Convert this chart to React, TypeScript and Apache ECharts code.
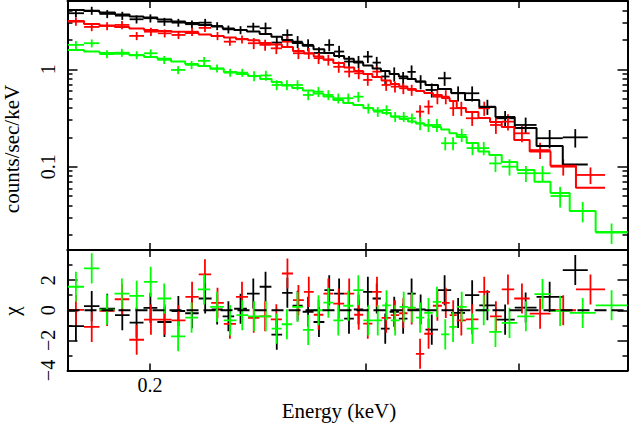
import { useEffect, useRef } from 'react'
import * as echarts from 'echarts'

// energy bin edges (keV) and values per data group
const blackEdges = [0.1714, 0.1767, 0.1819, 0.1873, 0.1925, 0.1976, 0.2028, 0.2083, 0.2137, 0.2192, 0.2246, 0.2293, 0.2343, 0.2400, 0.2458, 0.2513, 0.2564, 0.2615, 0.2665, 0.2720, 0.2776, 0.2827, 0.2881, 0.2934, 0.2986, 0.3039, 0.3087, 0.3138, 0.3193, 0.3245, 0.3296, 0.3357, 0.3437, 0.3523, 0.3616, 0.3714, 0.3829, 0.3970, 0.4136, 0.4345, 0.4554]
const blackModel = [4.06, 3.97, 3.83, 3.65, 3.48, 3.40, 3.25, 3.10, 2.99, 2.85, 2.75, 2.62, 2.53, 2.44, 2.30, 2.15, 2.00, 1.86, 1.74, 1.60, 1.47, 1.37, 1.28, 1.17, 1.09, 1.02, 0.960, 0.895, 0.843, 0.795, 0.750, 0.690, 0.628, 0.571, 0.484, 0.410, 0.324, 0.250, 0.163, 0.105]
const blackData = [3.76, 4.00, 3.70, 3.55, 3.26, 3.34, 3.08, 3.01, 2.90, 3.01, 2.78, 2.57, 2.53, 2.74, 2.64, 1.88, 2.25, 1.92, 1.78, 1.47, 1.78, 1.52, 1.20, 1.20, 1.35, 1.17, 0.843, 0.895, 0.808, 0.940, 0.746, 0.613, 0.808, 0.567, 0.567, 0.413, 0.314, 0.268, 0.196, 0.200]
const blackErr = [0.36, 0.38, 0.35, 0.34, 0.31, 0.32, 0.29, 0.28, 0.27, 0.28, 0.26, 0.24, 0.24, 0.26, 0.37, 0.27, 0.32, 0.27, 0.25, 0.21, 0.25, 0.22, 0.17, 0.17, 0.19, 0.17, 0.14, 0.15, 0.13, 0.155, 0.123, 0.101, 0.133, 0.100, 0.100, 0.073, 0.059, 0.051, 0.042, 0.043]
const blackChi = [-1.05, 0.27, 0.1, -0.33, -0.82, 0.16, -0.78, -0.05, -0.2, 0.78, 0.05, -0.4, 0.1, 1.11, 1.56, -1.62, 1.16, 0.3, -0.1, -0.78, 1.33, 1.1, -0.56, 0.05, 1.22, 0.78, -1.22, -0.1, -0.56, 1.1, 0.05, -1.29, 1.33, -0.18, 1.0, 0.33, -0.62, 0.18, 0.89, 2.67]

const redEdges = [0.1714, 0.1767, 0.1819, 0.1872, 0.1924, 0.1978, 0.2030, 0.2083, 0.2138, 0.2192, 0.2244, 0.2298, 0.2351, 0.2405, 0.2457, 0.2510, 0.2563, 0.2617, 0.2671, 0.2721, 0.2771, 0.2823, 0.2881, 0.2936, 0.2986, 0.3038, 0.3091, 0.3145, 0.3195, 0.3245, 0.3297, 0.3349, 0.3404, 0.3462, 0.3513, 0.3560, 0.3622, 0.3708, 0.3790, 0.3874, 0.3966, 0.4083, 0.4246, 0.4454, 0.4704]
const redModel = [3.13, 2.92, 2.82, 2.72, 2.62, 2.53, 2.47, 2.42, 2.36, 2.28, 2.20, 2.12, 2.05, 1.98, 1.86, 1.80, 1.69, 1.54, 1.45, 1.35, 1.26, 1.16, 1.04, 0.960, 0.895, 0.834, 0.768, 0.707, 0.666, 0.628, 0.599, 0.571, 0.545, 0.507, 0.473, 0.401, 0.364, 0.316, 0.288, 0.256, 0.188, 0.143, 0.102, 0.0608]
const redData = [3.08, 2.72, 2.78, 2.85, 2.20, 2.43, 2.34, 2.25, 2.43, 2.66, 2.20, 1.92, 2.03, 1.85, 1.78, 1.64, 1.92, 1.46, 1.46, 1.30, 1.25, 1.06, 0.945, 0.910, 0.777, 0.945, 0.690, 0.663, 0.638, 0.613, 0.367, 0.413, 0.523, 0.523, 0.398, 0.398, 0.314, 0.398, 0.268, 0.290, 0.220, 0.148, 0.100, 0.0822]
const redErr = [0.29, 0.26, 0.26, 0.27, 0.21, 0.23, 0.22, 0.21, 0.23, 0.25, 0.21, 0.18, 0.19, 0.24, 0.23, 0.21, 0.25, 0.19, 0.19, 0.17, 0.16, 0.14, 0.12, 0.12, 0.10, 0.12, 0.090, 0.086, 0.083, 0.080, 0.061, 0.068, 0.086, 0.086, 0.066, 0.066, 0.052, 0.066, 0.051, 0.055, 0.042, 0.028, 0.019, 0.016]
const redChi = [0.02, -1.1, -0.04, 0.73, -1.96, -0.62, -0.62, -0.67, 0.89, 2.38, 0.49, -0.9, 0.89, -0.5, -0.4, -0.6, 2.44, 0.67, 1.22, -0.3, 1.11, 0.44, 1.1, -0.3, -0.89, 1.22, -0.5, -0.33, -0.2, 0.05, -2.89, -1.56, 0.3, 0.49, -0.33, -0.67, -0.6, 1.22, -0.4, 1.38, 0.78, -0.22, 0.0, 1.38]

const greenEdges = [0.1714, 0.1767, 0.1819, 0.1871, 0.1924, 0.1978, 0.2028, 0.2081, 0.2137, 0.2189, 0.2240, 0.2298, 0.2353, 0.2405, 0.2460, 0.2514, 0.2562, 0.2613, 0.2666, 0.2720, 0.2771, 0.2823, 0.2876, 0.2931, 0.2987, 0.3043, 0.3095, 0.3145, 0.3197, 0.3248, 0.3297, 0.3349, 0.3403, 0.3457, 0.3511, 0.3560, 0.3627, 0.3707, 0.3784, 0.3874, 0.3989, 0.4120, 0.4246, 0.4402, 0.4622, 0.4907]
const greenModel = [1.58, 1.52, 1.47, 1.44, 1.39, 1.34, 1.28, 1.20, 1.13, 1.08, 1.01, 0.938, 0.895, 0.853, 0.795, 0.741, 0.682, 0.643, 0.606, 0.564, 0.526, 0.484, 0.451, 0.430, 0.401, 0.378, 0.356, 0.328, 0.309, 0.291, 0.278, 0.265, 0.256, 0.241, 0.220, 0.202, 0.175, 0.143, 0.132, 0.112, 0.0925, 0.0701, 0.0537, 0.0351, 0.0214]
const greenData = [1.78, 1.85, 1.43, 1.48, 1.40, 1.46, 1.25, 0.984, 1.11, 1.22, 1.02, 0.923, 0.923, 0.853, 0.864, 0.690, 0.690, 0.690, 0.545, 0.589, 0.545, 0.504, 0.504, 0.523, 0.398, 0.367, 0.382, 0.326, 0.326, 0.314, 0.279, 0.268, 0.268, 0.174, 0.174, 0.212, 0.155, 0.155, 0.108, 0.100, 0.0856, 0.0856, 0.0500, 0.0351, 0.0211]
const greenErr = [0.17, 0.175, 0.135, 0.14, 0.13, 0.14, 0.118, 0.093, 0.105, 0.115, 0.096, 0.087, 0.087, 0.101, 0.102, 0.081, 0.081, 0.081, 0.064, 0.070, 0.064, 0.059, 0.059, 0.062, 0.047, 0.043, 0.045, 0.038, 0.038, 0.037, 0.043, 0.041, 0.041, 0.027, 0.027, 0.033, 0.024, 0.024, 0.020, 0.019, 0.016, 0.016, 0.012, 0.0083, 0.0050]
const greenChi = [1.56, 2.78, 0.04, 1.1, 0.96, 1.89, 0.78, -1.73, -0.49, 1.38, 0.22, -0.67, -0.33, -0.4, -0.4, -1.22, -0.93, 0.22, -1.3, 0.0, 0.5, -0.67, 0.3, 1.33, -0.67, -0.67, 0.33, -0.67, 0.22, 0.18, -0.49, -0.18, 0.56, -1.6, -1.1, 0.22, -1.22, 0.0, -1.44, -0.84, -0.4, 1.07, -0.04, -0.18, 0.33]

const xTickValues = [0.2, 0.3, 0.4]
const xLabelValues = [0.2]
const yMajorValues = [0.1, 1]
const yMinorValues = [0.02, 0.03, 0.04, 0.05, 0.06, 0.07, 0.08, 0.09, 0.2, 0.3, 0.4, 0.5, 0.6, 0.7, 0.8, 0.9, 2, 3, 4, 5]

const X_MIN = 0.1713
const X_MAX = 0.4907
const Y_MIN = 0.01395
const Y_MAX = 5.02

const FONT = 'Liberation Serif'

function crossData(edges: number[], vals: number[], errs: number[]) {
  return vals.map((v, i) => {
    const lo = edges[i]
    const hi = edges[i + 1]
    return [Math.sqrt(lo * hi), v, lo, hi, v - errs[i], v + errs[i]]
  })
}

function residData(edges: number[], chi: number[]) {
  return crossData(edges, chi, chi.map(() => 1))
}

function stepData(edges: number[], model: number[]) {
  const pts = model.map((m, i) => [edges[i], m])
  pts.push([edges[edges.length - 1], model[model.length - 1]])
  return pts
}

const renderCross = (color: string) => (_params: any, api: any) => {
  const c = api.coord([api.value(0), api.value(1)])
  const lo = api.coord([api.value(2), api.value(1)])
  const hi = api.coord([api.value(3), api.value(1)])
  const yl = api.coord([api.value(0), api.value(4)])
  const yh = api.coord([api.value(0), api.value(5)])
  const style = { stroke: color, lineWidth: 1.8 }
  return {
    type: 'group',
    children: [
      { type: 'line', shape: { x1: lo[0], y1: c[1], x2: hi[0], y2: c[1] }, style },
      { type: 'line', shape: { x1: c[0], y1: yl[1], x2: c[0], y2: yh[1] }, style },
    ],
  }
}

const frame = { show: true, onZero: false, lineStyle: { color: '#000', width: 2 } }
const noSplit = { show: false }
const tickStyle = { color: '#000', width: 1.5 }

function logX(gridIndex: number, position: string, labels: boolean) {
  return {
    type: 'log',
    logBase: 10,
    gridIndex,
    position,
    min: X_MIN,
    max: X_MAX,
    axisLine: frame,
    splitLine: noSplit,
    axisTick: { show: true, inside: true, length: 7, customValues: xTickValues, lineStyle: tickStyle },
    axisLabel: labels
      ? { show: true, customValues: xLabelValues, margin: 4, color: '#000', fontFamily: FONT, fontSize: 20 }
      : { show: false },
  }
}

function logY(position: string, values: number[], length: number, line: boolean, labels: boolean) {
  return {
    type: 'log',
    logBase: 10,
    gridIndex: 0,
    position,
    min: Y_MIN,
    max: Y_MAX,
    axisLine: line ? frame : { show: false, onZero: false },
    splitLine: noSplit,
    axisTick: { show: true, inside: true, length, customValues: values, lineStyle: tickStyle },
    axisLabel: labels
      ? { show: true, customValues: yMajorValues, rotate: 90, margin: 10, color: '#000', fontFamily: FONT, fontSize: 20 }
      : { show: false },
  }
}

function chiY(position: string, labels: boolean) {
  return {
    type: 'value',
    gridIndex: 1,
    position,
    min: -4,
    max: 4,
    interval: 2,
    axisLine: frame,
    splitLine: noSplit,
    axisTick: { show: true, inside: true, length: 10, lineStyle: tickStyle },
    minorTick: { show: true, splitNumber: 2, length: 5, lineStyle: tickStyle },
    axisLabel: labels
      ? {
          show: true,
          rotate: 90,
          margin: 10,
          showMaxLabel: false,
          color: '#000',
          fontFamily: FONT,
          fontSize: 20,
          formatter: (v: number) => String(v).replace('-', '\u2212'),
        }
      : { show: false },
  }
}

const groups = [
  { color: '#000000', edges: blackEdges, model: blackModel, data: blackData, err: blackErr, chi: blackChi },
  { color: '#ff0000', edges: redEdges, model: redModel, data: redData, err: redErr, chi: redChi },
  { color: '#00ff00', edges: greenEdges, model: greenModel, data: greenData, err: greenErr, chi: greenChi },
]

const titleStyle = { fill: '#000', fontFamily: FONT, fontSize: 21, align: 'center', verticalAlign: 'middle' }

export default function App() {
  const chartRef = useRef<HTMLDivElement>(null)

  useEffect(() => {
    if (!chartRef.current) return
    document.body.style.margin = '0'
    const chart = echarts.init(chartRef.current, null, { renderer: 'svg' })

    const series: any[] = []
    groups.forEach((g) => {
      series.push({
        type: 'line',
        xAxisIndex: 0,
        yAxisIndex: 0,
        step: 'end',
        symbol: 'none',
        silent: true,
        lineStyle: { color: g.color, width: 2 },
        data: stepData(g.edges, g.model),
      })
      series.push({
        type: 'custom',
        xAxisIndex: 0,
        yAxisIndex: 0,
        clip: true,
        silent: true,
        renderItem: renderCross(g.color),
        data: crossData(g.edges, g.data, g.err),
      })
    })
    groups.forEach((g) => {
      series.push({
        type: 'custom',
        xAxisIndex: 2,
        yAxisIndex: 4,
        clip: true,
        silent: true,
        renderItem: renderCross(g.color),
        data: residData(g.edges, g.chi),
      })
    })
    series.push({
      type: 'line',
      xAxisIndex: 2,
      yAxisIndex: 4,
      symbol: 'none',
      silent: true,
      lineStyle: { color: '#000', width: 2, type: [12, 5] },
      data: [[X_MIN, 0], [X_MAX, 0]],
    })

    chart.setOption({
      animation: false,
      grid: [
        { left: 67.5, top: 1, width: 560, height: 249 },
        { left: 67.5, top: 250, width: 560, height: 120.5 },
      ],
      xAxis: [
        logX(0, 'bottom', false),
        logX(0, 'top', false),
        logX(1, 'bottom', true),
        logX(1, 'top', false),
      ],
      yAxis: [
        logY('left', yMajorValues, 10, true, true),
        logY('left', yMinorValues, 5, false, false),
        logY('right', yMajorValues, 10, true, false),
        logY('right', yMinorValues, 5, false, false),
        chiY('left', true),
        chiY('right', false),
      ],
      graphic: [
        { type: 'text', x: 12, y: 149, rotation: Math.PI / 2, style: { ...titleStyle, text: 'counts/sec/keV' } },
        { type: 'text', x: 12, y: 311, rotation: Math.PI / 2, style: { ...titleStyle, text: '\u03c7' } },
        { type: 'text', x: 339, y: 411, style: { ...titleStyle, text: 'Energy (keV)' } },
      ],
      series,
    })

    return () => {
      chart.dispose()
    }
  }, [])

  return <div ref={chartRef} style={{ width: '629px', height: '425px' }}></div>
}
